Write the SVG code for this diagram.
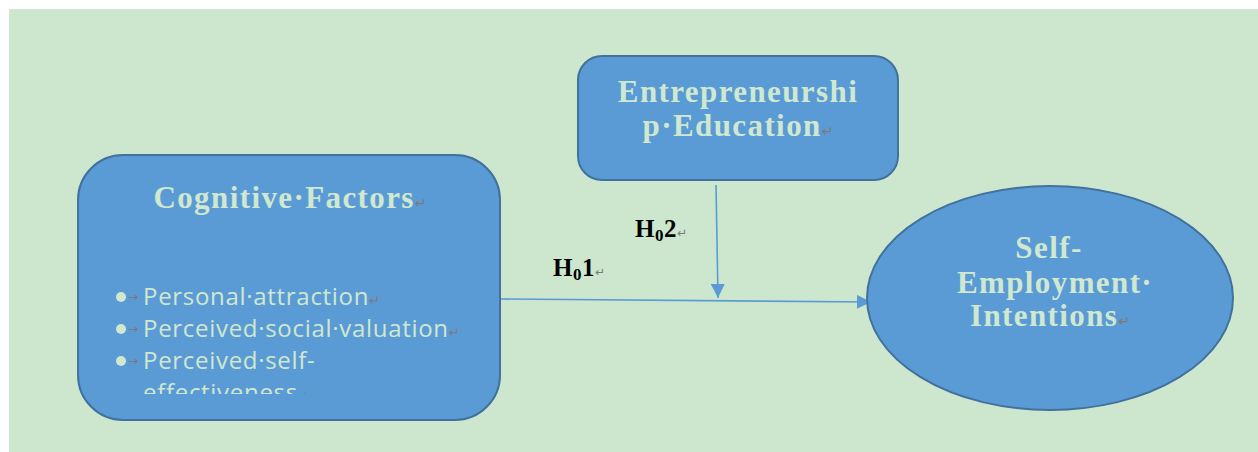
<svg xmlns="http://www.w3.org/2000/svg" width="1258" height="452" viewBox="0 0 1258 452">
<style>
.node{fill:#5b9bd5;stroke:#41719c;stroke-width:2}
.title{font-family:"Liberation Serif",serif;font-weight:bold;fill:#cfe8cf;text-anchor:middle;font-size:31px;letter-spacing:1.4px}
.item{font-family:"Open Sans","Liberation Sans",sans-serif;font-size:24px;fill:#cfe8cf;letter-spacing:0.7px}
.mark{font-family:"DejaVu Sans",sans-serif;fill:#7a7a7a;font-weight:normal;letter-spacing:0}
.lbl{font-family:"Liberation Serif",serif;font-weight:bold;font-size:25px;fill:#000;letter-spacing:0.5px}
.conn{stroke:#5b9bd5;stroke-width:1.6;fill:none}
</style>
<defs>
<marker id="arr2" viewBox="0 0 10 10" refX="10" refY="5" markerWidth="14" markerHeight="14" markerUnits="userSpaceOnUse" orient="auto">
<path d="M0,0 L10,5 L0,10 z" fill="#5b9bd5"/>
</marker>
<clipPath id="clipCF"><rect x="80" y="150" width="420" height="244"/></clipPath>
</defs>
<rect x="0" y="0" width="1258" height="452" fill="#ffffff"/>
<rect x="9" y="9" width="1249" height="443" fill="#cde7cf"/>
<g id="connectors">
<line class="conn" x1="500" y1="299" x2="871" y2="302" marker-end="url(#arr2)"/>
<line class="conn" x1="716" y1="185" x2="718" y2="298" marker-end="url(#arr2)"/>
</g>
<g id="cognitive">
<rect class="node" x="78" y="155" width="422" height="265" rx="45"/>
<text class="title" x="290" y="208">Cognitive·Factors<tspan class="mark" font-size="14">↵</tspan></text>
<g clip-path="url(#clipCF)">
<circle cx="121" cy="297" r="5" fill="#cfe8cf"/>
<circle cx="121" cy="329" r="5" fill="#cfe8cf"/>
<circle cx="121" cy="361" r="5" fill="#cfe8cf"/>
<text class="mark" x="128" y="301" font-size="12">→</text>
<text class="mark" x="128" y="333" font-size="12">→</text>
<text class="mark" x="128" y="365" font-size="12">→</text>
<text class="item" x="143" y="305">Personal·attraction<tspan class="mark" font-size="13">↵</tspan></text>
<text class="item" x="143" y="337">Perceived·social·valuation<tspan class="mark" font-size="13">↵</tspan></text>
<text class="item" x="143" y="369">Perceived·self-</text>
<text class="item" x="143" y="401">effectiveness<tspan class="mark" font-size="13">↵</tspan></text>
</g>
</g>
<g id="education">
<rect class="node" x="578" y="56" width="320" height="124" rx="24"/>
<text class="title" x="738" y="102">Entrepreneurshi</text>
<text class="title" x="738" y="136">p·Education<tspan class="mark" font-size="14">↵</tspan></text>
</g>
<g id="intentions">
<ellipse class="node" cx="1050" cy="298" rx="183" ry="112"/>
<text class="title" x="1049" y="258">Self-</text>
<text class="title" x="1055" y="293">Employment·</text>
<text class="title" x="1050" y="326">Intentions<tspan class="mark" font-size="14">↵</tspan></text>
</g>
<g id="labels">
<text class="lbl" x="553" y="276">H<tspan font-size="17" dy="4">0</tspan><tspan dy="-4">1</tspan><tspan class="mark" font-size="12">↵</tspan></text>
<text class="lbl" x="635" y="237">H<tspan font-size="17" dy="4">0</tspan><tspan dy="-4">2</tspan><tspan class="mark" font-size="12">↵</tspan></text>
</g>
</svg>
